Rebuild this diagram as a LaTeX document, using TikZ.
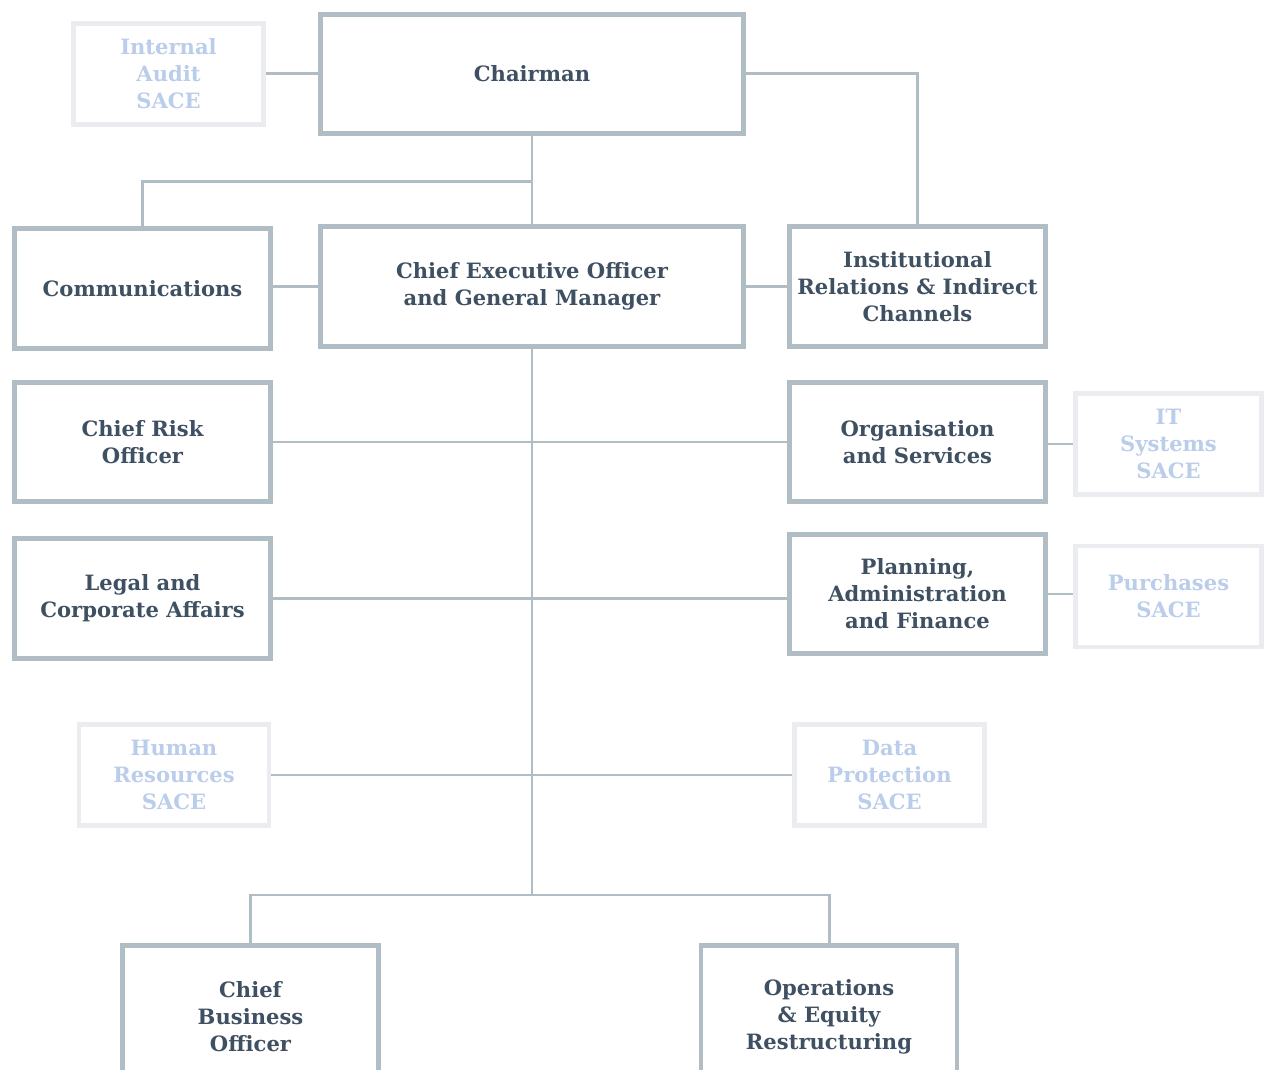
\documentclass[tikz,border=0pt]{standalone}
\usepackage{fontspec}
\setmainfont{DejaVu Serif}
\usetikzlibrary{backgrounds}
\definecolor{frame}{HTML}{B1BDC5}
\definecolor{paleframe}{HTML}{EAECEF}
\definecolor{ink}{HTML}{3E5062}
\definecolor{paleink}{HTML}{BACDEA}
\begin{document}
\begin{tikzpicture}[x=0.02cm,y=-0.02cm,
  unit/.style={draw=frame,line width=2.8pt,fill=white,align=center,text=ink,
    font=\fontsize{12}{15.3}\selectfont\bfseries,minimum width=5.12cm,minimum height=2.4cm},
  wide/.style={unit,minimum width=8.46cm},
  sace/.style={unit,draw=paleframe,text=paleink,minimum width=3.8cm,minimum height=2.02cm},
  link/.style={draw=frame,line width=1.7pt}]
\useasboundingbox (0,0) rectangle (1272,1070);
\clip (0,0) rectangle (1272,1070);
\node[wide,minimum height=2.38cm] (chair) at (532,74) {Chairman};
\node[sace] (audit) at (168.5,74) {Internal\\Audit\\SACE};
\node[unit] (comm) at (142.5,288.5) {Communications};
\node[wide] (ceo) at (532,286.5) {Chief Executive Officer\\and General Manager};
\node[unit] (inst) at (917.5,286.5) {Institutional\\Relations \& Indirect\\Channels};
\node[unit,minimum height=2.38cm] (risk) at (142.5,442) {Chief Risk\\Officer};
\node[unit,minimum height=2.38cm] (org) at (917.5,442) {Organisation\\and Services};
\node[sace,minimum width=3.72cm] (it) at (1168.5,444) {IT\\Systems\\SACE};
\node[unit] (legal) at (142.5,598.5) {Legal and\\Corporate Affairs};
\node[unit,minimum height=2.38cm] (plan) at (917.5,594) {Planning,\\Administration\\and Finance};
\node[sace,minimum width=3.72cm] (purch) at (1168.5,596.5) {Purchases\\SACE};
\node[sace] (hr) at (174,775) {Human\\Resources\\SACE};
\node[sace] (data) at (889.5,775) {Data\\Protection\\SACE};
\node[unit,minimum height=2.84cm] (cbo) at (250.5,1016.5) {Chief\\Business\\Officer};
\node[unit,minimum height=2.84cm] (ops) at (829,1016.5) {Operations\\\& Equity\\Restructuring};
\coordinate (split) at (532,182);
\coordinate (bus) at (532,895);
\begin{scope}[on background layer]
\draw[link] (audit) -- (chair);
\draw[link] (chair.east) -| (inst.north);
\draw[link] (chair) -- (ceo);
\draw[link] (split) -| (comm.north);
\draw[link] (ceo.west -| comm.east) -- (ceo.west);
\draw[link] (ceo) -- (inst);
\draw[link] (ceo.south) -- (bus);
\draw[link] (risk) -- (org);
\draw[link] (legal.east) -- (legal.east -| plan.west);
\draw[link] (hr) -- (data);
\draw[link] (it.west -| org.east) -- (it.west);
\draw[link] (plan.east) -- (plan.east -| purch.west);
\draw[link] (bus) -| (cbo.north);
\draw[link] (bus) -| (ops.north);
\end{scope}
\end{tikzpicture}
\end{document}
